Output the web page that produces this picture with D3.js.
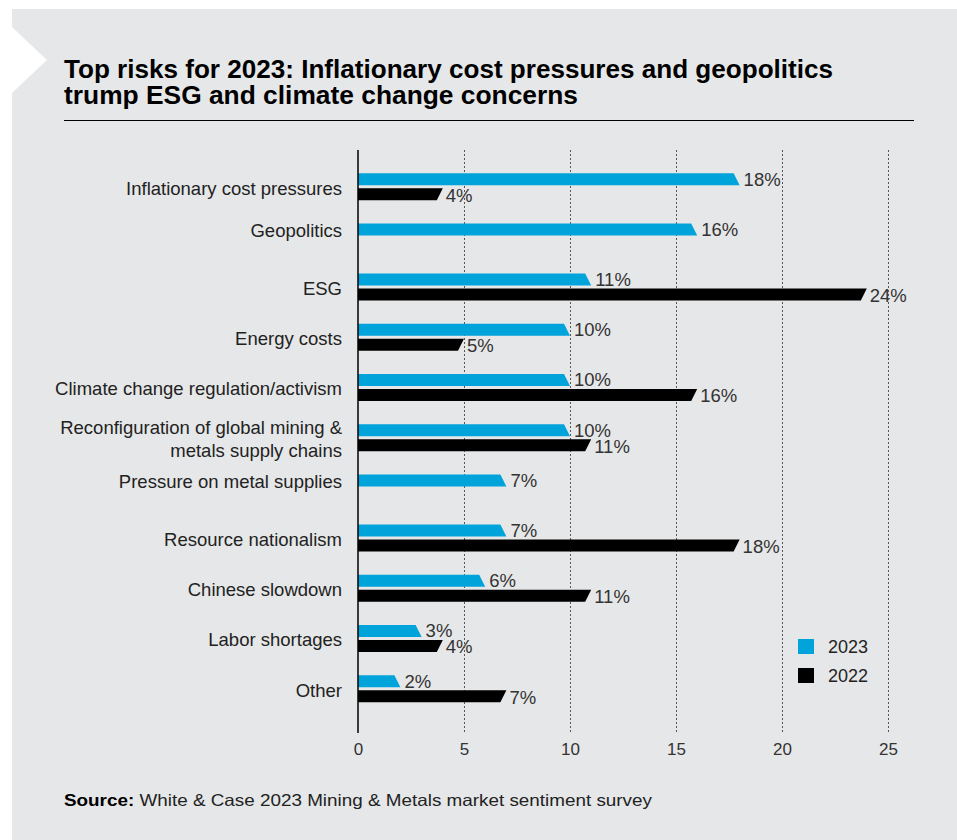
<!DOCTYPE html>
<html>
<head>
<meta charset="utf-8">
<script src="https://cdn.jsdelivr.net/npm/d3@7"></script>
<style>
  html, body { margin: 0; padding: 0; background: #ffffff; }
  svg { display: block; font-family: "Liberation Sans", Arial, sans-serif; }
</style>
</head>
<body>
<svg id="chart" width="957" height="840"></svg>
<script>
// Survey data: share of respondents naming each risk
const categories = [
  "Inflationary cost pressures",
  "Geopolitics",
  "ESG",
  "Energy costs",
  "Climate change regulation/activism",
  "Reconfiguration of global mining & metals supply chains",
  "Pressure on metal supplies",
  "Resource nationalism",
  "Chinese slowdown",
  "Labor shortages",
  "Other"
];
// Category labels broken onto lines
const categoryLines = [
  ["Inflationary cost pressures"],
  ["Geopolitics"],
  ["ESG"],
  ["Energy costs"],
  ["Climate change regulation/activism"],
  ["Reconfiguration of global mining &", "metals supply chains"],
  ["Pressure on metal supplies"],
  ["Resource nationalism"],
  ["Chinese slowdown"],
  ["Labor shortages"],
  ["Other"]
];
const values2023 = [18, 16, 11, 10, 10, 10, 7, 7, 6, 3, 2];
const values2022 = [4, null, 24, 5, 16, 11, null, 18, 11, 4, 7];
const xTicks = [0, 5, 10, 15, 20, 25];
const seriesNames = ["2023", "2022"];
const seriesColors = ["#00a3da", "#000000"];

const svg = d3.select("#chart");
const W = 957, H = 840;

// Panel background with the chevron notch on the left
svg.append("rect").attr("x", 12).attr("y", 9).attr("width", W - 12).attr("height", H - 9)
  .attr("fill", "#e6e7e8");
svg.append("path").attr("d", "M12,27 L47,60 L12,93 Z").attr("fill", "#ffffff");

// Title
const title = svg.append("text").attr("font-size", 25).attr("font-weight", "bold").attr("fill", "#000");
title.append("tspan").attr("x", 64).attr("y", 78)
  .attr("textLength", 769).attr("lengthAdjust", "spacingAndGlyphs")
  .text("Top risks for 2023: Inflationary cost pressures and geopolitics");
title.append("tspan").attr("x", 64).attr("y", 104)
  .attr("textLength", 514).attr("lengthAdjust", "spacingAndGlyphs")
  .text("trump ESG and climate change concerns");
svg.append("line").attr("x1", 64).attr("x2", 914).attr("y1", 120.5).attr("y2", 120.5)
  .attr("stroke", "#000").attr("stroke-width", 1.2);

// Scales
const x = d3.scaleLinear().domain([0, 25]).range([358, 888]);
const y = d3.scaleBand().domain(categories).range([161.6, 713.8]).padding(0);

const plotTop = 150, plotBottom = 733;
const barH = 12, gap = 3, slant = 6;

// Category labels
const catG = svg.append("g").attr("font-size", 18.5).attr("fill", "#222").attr("text-anchor", "end");
categories.forEach((c, i) => {
  const lines = categoryLines[i];
  const cy = y(c) + y.bandwidth() / 2;
  // Single-series rows are labelled at the 2023 bar
  const center = values2022[i] == null ? cy - (gap / 2 + barH / 2) : cy;
  const lh = 22.5;
  lines.forEach((ln, k) => {
    catG.append("text")
      .attr("x", 342)
      .attr("y", center + (k - (lines.length - 1) / 2) * lh + 2)
      .attr("dy", "0.32em")
      .text(ln);
  });
});

// Value labels
const valG = svg.append("g").attr("font-size", 18.5).attr("fill", "#333");
categories.forEach((c, i) => {
  const cy = y(c) + y.bandwidth() / 2;
  if (values2023[i] != null) {
    valG.append("text").attr("x", x(values2023[i]) + 4)
      .attr("y", cy - gap / 2 - barH / 2).attr("dy", "0.35em")
      .text(values2023[i] + "%");
  }
  if (values2022[i] != null) {
    valG.append("text").attr("x", x(values2022[i]) + 3)
      .attr("y", cy + gap / 2 + barH / 2 + 1).attr("dy", "0.35em")
      .text(values2022[i] + "%");
  }
});

// Dashed gridlines
svg.append("g").selectAll("line").data(xTicks.filter(t => t > 0)).join("line")
  .attr("x1", d => x(d) + 0.5).attr("x2", d => x(d) + 0.5)
  .attr("y1", plotTop).attr("y2", plotBottom)
  .attr("stroke", "#555").attr("stroke-width", 1).attr("stroke-dasharray", "2,2");

// Bars: 2023 slants outward at the bottom, 2022 inward, forming a point together
const barG = svg.append("g");
categories.forEach((c, i) => {
  const cy = y(c) + y.bandwidth() / 2;
  const x0 = x(0);
  if (values2023[i] != null) {
    const xe = x(values2023[i]);
    const t = cy - gap / 2 - barH, b = cy - gap / 2;
    barG.append("path")
      .attr("d", `M${x0},${t}L${xe - slant},${t}L${xe},${b}L${x0},${b}Z`)
      .attr("fill", seriesColors[0]);
  }
  if (values2022[i] != null) {
    const xe = x(values2022[i]);
    const t = cy + gap / 2, b = cy + gap / 2 + barH;
    barG.append("path")
      .attr("d", `M${x0},${t}L${xe},${t}L${xe - slant},${b}L${x0},${b}Z`)
      .attr("fill", seriesColors[1]);
  }
});

// Zero axis line
svg.append("line").attr("x1", x(0)).attr("x2", x(0))
  .attr("y1", plotTop).attr("y2", plotBottom)
  .attr("stroke", "#000").attr("stroke-width", 1.5);

// X tick labels
const xAxis = d3.axisBottom(x).tickValues(xTicks).tickSize(0).tickPadding(0);
const axG = svg.append("g").attr("transform", `translate(0,${plotBottom + 10})`).call(xAxis);
axG.select(".domain").remove();
axG.selectAll("text").attr("font-size", 17).attr("fill", "#333")
  .attr("font-family", "Liberation Sans, Arial, sans-serif").attr("dy", "0.71em");

// Legend
const leg = svg.append("g");
seriesNames.forEach((s, k) => {
  const ly = 639 + k * 29;
  leg.append("rect").attr("x", 798).attr("y", ly).attr("width", 16).attr("height", 15)
    .attr("fill", seriesColors[k]);
  leg.append("text").attr("x", 828).attr("y", ly + 8).attr("dy", "0.35em")
    .attr("font-size", 18).attr("fill", "#222").text(s);
});

// Source note
const src = svg.append("text").attr("x", 64).attr("y", 806).attr("font-size", 16.5).attr("fill", "#222")
  .attr("textLength", 588).attr("lengthAdjust", "spacingAndGlyphs");
src.append("tspan").attr("font-weight", "bold").attr("fill", "#000").text("Source:");
src.append("tspan").text(" White & Case 2023 Mining & Metals market sentiment survey");
</script>
</body>
</html>
